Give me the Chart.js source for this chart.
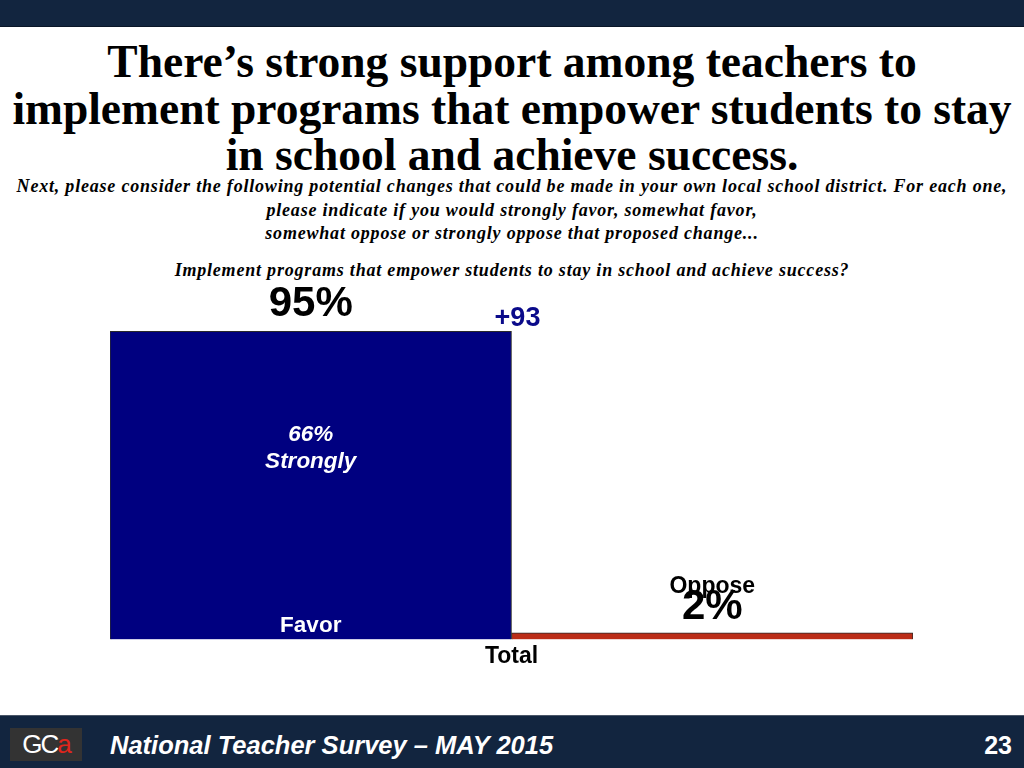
<!DOCTYPE html>
<html>
<head>
<meta charset="utf-8">
<script src="https://cdn.jsdelivr.net/npm/chart.js@4/dist/chart.umd.min.js"></script>
<style>
  html, body { margin:0; padding:0; width:1024px; height:768px; overflow:hidden; background:#fff; }
  #top { position:absolute; left:0; top:0; width:1024px; height:26px; background:#12253f; border-bottom:1px solid #0a1628; }
  #foot { position:absolute; left:0; top:715px; width:1024px; height:53px; background:#12253f; border-top:1px solid #4a5668; }
  #title { position:absolute; left:0; top:39px; width:1024px; text-align:center; font-family:"Liberation Serif","Times New Roman",serif; font-weight:bold; font-size:45.5px; line-height:46.5px; color:#000; white-space:nowrap; }
  #sub { position:absolute; left:0; top:175px; width:1024px; text-align:center; font-family:"Liberation Serif","Times New Roman",serif; font-weight:bold; font-style:italic; font-size:18px; letter-spacing:0.8px; line-height:23.5px; color:#000; white-space:nowrap; }
  #q { position:absolute; left:0; top:259px; width:1024px; text-align:center; font-family:"Liberation Serif","Times New Roman",serif; font-weight:bold; font-style:italic; font-size:18px; letter-spacing:0.8px; line-height:23px; color:#000; white-space:nowrap; }
  #logo { position:absolute; left:10px; top:728px; width:72px; height:33px; background:#333; font-family:"Liberation Sans",Arial,sans-serif; font-size:26px; line-height:33px; text-align:center; color:#fff; letter-spacing:-2px; }
  #logo span { color:#e0261c; }
  #ftext { position:absolute; left:110px; top:731px; font-family:"Liberation Sans",Arial,sans-serif; font-weight:bold; font-style:italic; font-size:25.5px; color:#fff; white-space:nowrap; }
  #pnum { position:absolute; right:12px; top:731px; font-family:"Liberation Sans",Arial,sans-serif; font-weight:bold; font-size:25px; color:#fff; }
  canvas { position:absolute; left:0; top:0; }
</style>
</head>
<body>
<div id="top"></div>
<div id="title">There’s strong support among teachers to<br>implement programs that empower students to stay<br>in school and achieve success.</div>
<div id="sub">Next, please consider the following potential changes that could be made in your own local school district. For each one,<br>please indicate if you would strongly favor, somewhat favor,<br>somewhat oppose or strongly oppose that proposed change...</div>
<div id="q">Implement programs that empower students to stay in school and achieve success?</div>
<div id="foot"></div>
<div id="logo">GC<span>a</span></div>
<div id="ftext">National Teacher Survey – MAY 2015</div>
<div id="pnum">23</div>
<canvas id="c" width="1024" height="768"></canvas>
<script>
const categories = ['Total'];
const seriesNames = ['Favor', 'Oppose'];
const favorValues = [95];
const opposeValues = [2];
const stronglyFavorValues = [66];
const netValues = [93];

const labelPlugin = {
  id: 'labels',
  afterDatasetsDraw(chart) {
    const ctx = chart.ctx;
    const fav = chart.getDatasetMeta(0).data[0];
    const opp = chart.getDatasetMeta(1).data[0];
    ctx.save();
    ctx.textAlign = 'center';
    ctx.textBaseline = 'middle';
    ctx.fillStyle = '#000';
    ctx.font = 'bold 42px "Liberation Sans", Arial, sans-serif';
    ctx.fillText(favorValues[0] + '%', fav.x, fav.y - 27);
    ctx.fillStyle = '#0a0a8a';
    ctx.font = 'bold 27px "Liberation Sans", Arial, sans-serif';
    ctx.fillText('+' + netValues[0], fav.x + fav.width / 2 + 6, fav.y - 13);
    ctx.fillStyle = '#fff';
    ctx.font = 'italic bold 22.5px "Liberation Sans", Arial, sans-serif';
    ctx.fillText(stronglyFavorValues[0] + '%', fav.x, 435);
    ctx.fillText('Strongly', fav.x, 462);
    ctx.font = 'bold 22.5px "Liberation Sans", Arial, sans-serif';
    ctx.fillText(seriesNames[0], fav.x, fav.base - 14);
    ctx.fillStyle = '#000';
    ctx.font = 'bold 23px "Liberation Sans", Arial, sans-serif';
    ctx.fillText(seriesNames[1], opp.x, opp.y - 46);
    ctx.font = 'bold 42px "Liberation Sans", Arial, sans-serif';
    ctx.fillText(opposeValues[0] + '%', opp.x, opp.y - 25);
    ctx.restore();
  }
};

new Chart(document.getElementById('c'), {
  type: 'bar',
  data: {
    labels: categories,
    datasets: [
      { label: seriesNames[0], data: favorValues, backgroundColor: '#000080', borderColor: '#2a2a2a', borderWidth: 1, barPercentage: 1, categoryPercentage: 1 },
      { label: seriesNames[1], data: opposeValues, backgroundColor: '#bb2d17', borderColor: '#2a2a2a', borderWidth: 1, barPercentage: 1, categoryPercentage: 1 }
    ]
  },
  options: {
    responsive: false,
    animation: false,
    layout: { padding: { left: 110, right: 111, top: 315, bottom: 95 } },
    plugins: { legend: { display: false }, tooltip: { enabled: false } },
    scales: {
      x: {
        grid: { display: false, drawTicks: false },
        border: { display: false },
        ticks: { color: '#000', padding: 3, font: { family: '"Liberation Sans", Arial, sans-serif', weight: 'bold', size: 23 } }
      },
      y: { display: false, min: 0, max: 100 }
    }
  },
  plugins: [labelPlugin]
});
</script>
</body>
</html>
